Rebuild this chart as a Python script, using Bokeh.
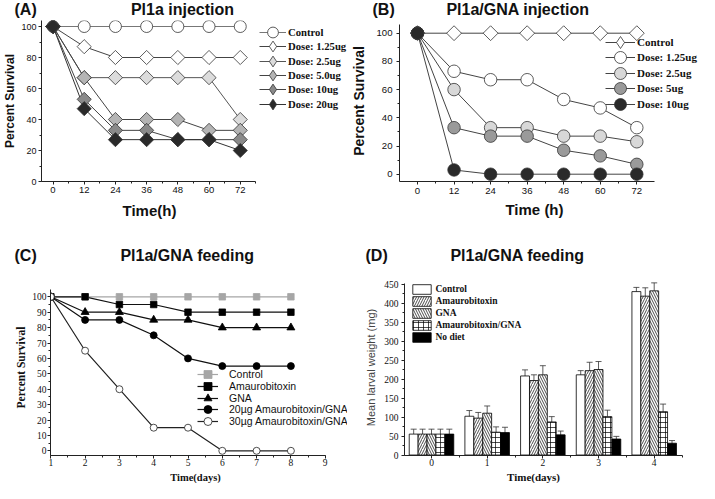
import math
from bokeh.plotting import figure
from bokeh.models import (Range1d, Label, Legend, LegendItem, SingleIntervalTicker,
                          ColumnDataSource, Whisker, TeeHead)
from bokeh.layouts import row, column
from bokeh.embed import file_html
from bokeh.resources import INLINE

# ---------------- data ----------------
# (A) Pl1a injection
a_hours = [0, 12, 24, 36, 48, 60, 72]
a_names = ["Control", "Dose: 1.25ug", "Dose: 2.5ug", "Dose: 5.0ug", "Dose: 10ug", "Dose: 20ug"]
a_control = [100, 100, 100, 100, 100, 100, 100]
a_dose125 = [100, 87, 80, 80, 80, 80, 80]
a_dose25 = [100, 67, 67, 67, 67, 67, 40]
a_dose50 = [100, 67, 40, 40, 40, 33, 33]
a_dose10 = [100, 53, 33, 33, 27, 27, 27]
a_dose20 = [100, 47, 27, 27, 27, 27, 20]

# (B) Pl1a/GNA injection
b_hours = [0, 12, 24, 36, 48, 60, 72]
b_names = ["Control", "Dose: 1.25ug", "Dose: 2.5ug", "Dose: 5ug", "Dose: 10ug"]
b_control = [100, 100, 100, 100, 100, 100, 100]
b_dose125 = [100, 73, 67, 67, 53, 47, 33]
b_dose25 = [100, 60, 33, 33, 27, 27, 23]
b_dose5 = [100, 33, 27, 27, 17, 13, 7]
b_dose10 = [100, 3, 0, 0, 0, 0, 0]

# (C) Pl1a/GNA feeding (survival)
c_days = [1, 2, 3, 4, 5, 6, 7, 8]
c_names = ["Control", "Amaurobitoxin", "GNA", "20µg Amaurobitoxin/GNA", "30µg Amaurobitoxin/GNA"]
c_control = [100, 100, 100, 100, 100, 100, 100, 100]
c_amaur = [100, 100, 95, 95, 90, 90, 90, 90]
c_gna = [100, 90, 90, 85, 85, 80, 80, 80]
c_20 = [100, 85, 85, 75, 60, 55, 55, 55]
c_30 = [100, 65, 40, 15, 15, 0, 0, 0]

# (D) Pl1a/GNA feeding (larval weight, mg)
d_days = [0, 1, 2, 3, 4]
d_names = ["Control", "Amaurobitoxin", "GNA", "Amaurobitoxin/GNA", "No diet"]
d_control = [55, 102, 208, 211, 430]
d_control_err = [13, 15, 16, 11, 11]
d_amaur = [55, 97, 196, 222, 418]
d_amaur_err = [13, 15, 15, 22, 22]
d_gna = [55, 110, 211, 225, 432]
d_gna_err = [13, 19, 24, 21, 21]
d_combo = [55, 60, 87, 101, 114]
d_combo_err = [13, 14, 14, 17, 20]
d_nodiet = [55, 59, 53, 42, 31]
d_nodiet_err = [13, 14, 10, 7, 7]

SANS = "Liberation Sans"
SERIF = "Liberation Serif"


# ---------------- helpers ----------------
def panel(ox, oy, w, h, fl, fb, ft, xc, yc):
    kx = (xc[3] - xc[1]) / (xc[2] - xc[0])
    ky = (yc[1] - yc[3]) / (yc[2] - yc[0])
    X = lambda px: xc[0] + (px - xc[1]) / kx
    Y = lambda py: yc[0] + (yc[1] - py) / ky
    p = figure(width=w, height=h,
               x_range=Range1d(X(fl), X(ox + w)), y_range=Range1d(Y(fb), Y(ft)),
               min_border_left=fl - ox, min_border_right=0, min_border_top=ft - oy,
               min_border_bottom=oy + h - fb,
               output_backend="svg", toolbar_location=None)
    p.xgrid.visible = False
    p.ygrid.visible = False
    p.outline_line_color = None
    return p, X, Y


def strip(ox, oy, w, h, texts):
    # text-only band; its ranges are plain page pixels (y grows downward)
    s = figure(width=w, height=h, x_range=Range1d(ox, ox + w), y_range=Range1d(oy + h, oy),
               min_border_left=0, min_border_right=0, min_border_top=0, min_border_bottom=0,
               x_axis_location=None, y_axis_location=None,
               output_backend="svg", toolbar_location=None)
    s.outline_line_color = None
    for g in s.grid:
        g.visible = False
    for (tx, ty, txt, font, size, bold, align) in texts:
        s.add_layout(Label(x=tx, y=ty, text=txt, text_font=font, text_font_size=size,
                           text_font_style="bold" if bold else "normal", text_align=align,
                           text_baseline="middle", text_color="#111111"))
    return s


def style_axis(ax, bounds, interval, font, size, tick_out, standoff, label=None, lfont=SANS,
               lsize="12px", lbold=True, lstandoff=2, lcolor="#111111"):
    ax.bounds = bounds
    ax.ticker = SingleIntervalTicker(interval=interval, num_minor_ticks=2)
    ax.axis_line_color = "#222222"
    ax.axis_line_width = 1
    ax.major_tick_line_color = "#222222"
    ax.minor_tick_line_color = "#222222"
    ax.major_tick_out = tick_out
    ax.major_tick_in = 0
    ax.minor_tick_out = 2
    ax.minor_tick_in = 0
    ax.major_label_text_font = font
    ax.major_label_text_font_size = size
    ax.major_label_text_color = "#111111"
    ax.major_label_standoff = standoff
    if label is not None:
        ax.axis_label = label
        ax.axis_label_text_font = lfont
        ax.axis_label_text_font_size = lsize
        ax.axis_label_text_font_style = "bold" if lbold else "normal"
        ax.axis_label_text_color = lcolor
        ax.axis_label_standoff = lstandoff


def make_legend(items, vx, vy, gw, gh, standoff, font, size, bold):
    return Legend(items=items, location=(vx, vy), glyph_width=gw, glyph_height=gh,
                  spacing=0, label_standoff=standoff, label_height=6, label_width=10,
                  padding=0, margin=0, border_line_color=None, background_fill_alpha=0,
                  label_text_font=font, label_text_font_size=size,
                  label_text_font_style="bold" if bold else "normal",
                  label_text_color="#111111")


def add_row_legends(p, items, fb, vx, first_center, step, gw, gh, standoff, font, size, bold):
    # one legend per row so that rows can sit closer than the glyph box height
    for i, it in enumerate(items):
        center = first_center + i * step
        vy = fb - (center + gh / 2)
        p.add_layout(make_legend([it], vx, vy, gw, gh, standoff, font, size, bold))


# plots sharing a row get the same top and bottom borders (Bokeh aligns their frames)
TOP_FT, TOP_FB = 28, 189
BOT_FT, BOT_FB = 287, 463

# ---------------- panel A ----------------
FA = dict(fl=44, fb=TOP_FB, ft=TOP_FT)
pA, XA, YA = panel(8, 28, 347, 178, FA["fl"], FA["fb"], FA["ft"], (0, 55.7, 72, 246), (0, 189, 100, 34))
style_axis(pA.xaxis[0], (XA(FA["fl"]), 78), 12, SANS, "9.5px", 3, 2)
style_axis(pA.yaxis[0], (0, 105), 20, SANS, "9px", 3, 2, "Percent Survival", SANS, "12px", True, 1)
a_vals = [a_control, a_dose125, a_dose25, a_dose50, a_dose10, a_dose20]
a_fill = ["white", "white", "#dcdcdc", "#b4b4b4", "#8a8a8a", "#2a2a2a"]
a_line = ["#777777", "#444444", "#555555", "#444444", "#444444", "#333333"]
a_lines, a_keys = [], []
for vals, lc in zip(a_vals, a_line):
    src = ColumnDataSource(dict(x=a_hours, y=vals))
    a_lines.append(pA.line("x", "y", source=src, line_color=lc, line_width=1))
for i, (vals, fc) in enumerate(zip(a_vals, a_fill)):
    src = ColumnDataSource(dict(x=a_hours, y=vals))
    if i == 0:
        key = pA.scatter("x", "y", source=src, marker="circle", size=12,
                         fill_color=fc, line_color="#333333", line_width=0.8)
    else:
        # small diamond hidden under the rotated square: gives the legend its diamond key
        key = pA.scatter("x", "y", source=src, marker="diamond", size=4,
                         fill_color=fc, line_color="#333333", line_width=0.8)
        pA.scatter("x", "y", source=src, marker="square", size=10, angle=math.pi / 4,
                   fill_color=fc, line_color="#333333", line_width=0.8)
    a_keys.append(key)
a_items = [LegendItem(label=n, renderers=[l, k]) for n, l, k in zip(a_names, a_lines, a_keys)]
add_row_legends(pA, a_items, FA["fb"], 262 - FA["fl"], 40, 14.35, 27, 30, 2, SERIF, "10.7px", True)

# ---------------- panel B ----------------
FB = dict(fl=407, fb=TOP_FB, ft=TOP_FT)
pB, XB, YB = panel(355, 28, 352, 178, FB["fl"], FB["fb"], FB["ft"], (0, 425, 72, 644.3), (0, 181.7, 100, 40.7))
style_axis(pB.xaxis[0], (XB(FB["fl"]), 77.7), 12, SANS, "9.6px", 3, 3)
style_axis(pB.yaxis[0], (YB(FB["fb"]), 106), 20, SANS, "9.6px", 3, 4, "Percent Survival", SANS, "14px", True, 6)
b_vals = [b_control, b_dose125, b_dose25, b_dose5, b_dose10]
b_fill = ["white", "white", "#d8d8d8", "#9a9a9a", "#2a2a2a"]
b_lines, b_keys = [], []
for vals in b_vals:
    src = ColumnDataSource(dict(x=b_hours, y=vals))
    b_lines.append(pB.line("x", "y", source=src, line_color="#444444", line_width=1))
for i, (vals, fc) in enumerate(zip(b_vals, b_fill)):
    src = ColumnDataSource(dict(x=b_hours, y=vals))
    if i == 0:
        key = pB.scatter("x", "y", source=src, marker="diamond", size=4,
                         fill_color=fc, line_color="#333333", line_width=0.8)
        pB.scatter("x", "y", source=src, marker="square", size=10.5, angle=math.pi / 4,
                   fill_color=fc, line_color="#333333", line_width=0.8)
    else:
        key = pB.scatter("x", "y", source=src, marker="circle", size=12.5,
                         fill_color=fc, line_color="#333333", line_width=0.8)
    b_keys.append(key)
b_items = [LegendItem(label=n, renderers=[l, k]) for n, l, k in zip(b_names, b_lines, b_keys)]
add_row_legends(pB, b_items, FB["fb"], 613 - FB["fl"], 50, 15.4, 30, 32, 2, SERIF, "11px", True)

# ---------------- panel C ----------------
FC = dict(fl=58, fb=BOT_FB, ft=BOT_FT)
pC, XC, YC = panel(8, 272, 347, 206, FC["fl"], FC["fb"], FC["ft"], (1, 58.3, 9, 332.7), (0, 458.3, 100, 304.3))
style_axis(pC.xaxis[0], (1, 9), 1, SERIF, "9.5px", 3, 0)
style_axis(pC.yaxis[0], (YC(FC["fb"]), 104.5), 10, SERIF, "9.5px", 3, 1, "Percent Survival", SERIF, "11.5px", True, 2)
c_vals = [c_control, c_amaur, c_gna, c_20, c_30]
c_marker = ["square", "square", "triangle", "circle", "circle"]
c_size = [6.5, 6.5, 8, 7, 7]
c_fill = ["#a6a6a6", "black", "black", "black", "white"]
c_edge = ["#a6a6a6", "black", "black", "black", "#222222"]
c_lcol = ["#a6a6a6", "#111111", "#111111", "#111111", "#222222"]
c_lines, c_items = [], []
for vals, lc in zip(c_vals, c_lcol):
    src = ColumnDataSource(dict(x=c_days, y=vals))
    c_lines.append(pC.line("x", "y", source=src, line_color=lc, line_width=1.2))
for i, vals in enumerate(c_vals):
    src = ColumnDataSource(dict(x=c_days, y=vals))
    sr = pC.scatter("x", "y", source=src, marker=c_marker[i], size=c_size[i],
                    fill_color=c_fill[i], line_color=c_edge[i], line_width=0.8)
    c_items.append(LegendItem(label=c_names[i], renderers=[c_lines[i], sr]))
add_row_legends(pC, c_items, FC["fb"], 205 - FC["fl"], 382.3, 11.7, 21, 20, 11, SANS, "10.5px", False)

# ---------------- panel D ----------------
FD = dict(fl=412, fb=BOT_FB, ft=BOT_FT)
pD, XD, YD = panel(355, 272, 352, 206, FD["fl"], FD["fb"], FD["ft"], (0, 439, 4, 661.7), (0, 462.5, 450, 291.5))
style_axis(pD.xaxis[0], (XD(FD["fl"]), 4.5), 1, SERIF, "9.5px", 3, 0)
style_axis(pD.yaxis[0], (YD(FD["fb"]), 452), 50, SERIF, "9.5px", 3, 3, "Mean larval weight (mg)",
           SANS, "11px", False, 4, "#444444")
d_vals = [d_control, d_amaur, d_gna, d_combo, d_nodiet]
d_errs = [d_control_err, d_amaur_err, d_gna_err, d_combo_err, d_nodiet_err]
d_fill = ["white", "white", "white", "white", "black"]
d_hatch = [" ", "/", "\\", "+", " "]
bar_w = 0.16
d_items = []
for i, (vals, errs) in enumerate(zip(d_vals, d_errs)):
    xs = [d + (i - 2) * bar_w for d in d_days]
    src = ColumnDataSource(dict(x=xs, top=vals,
                                lower=[v - e for v, e in zip(vals, errs)],
                                upper=[v + e for v, e in zip(vals, errs)]))
    r = pD.vbar(x="x", top="top", bottom=0, width=bar_w, source=src,
                fill_color=d_fill[i], line_color="black", line_width=0.8,
                hatch_pattern=d_hatch[i], hatch_color="black", hatch_scale=5, hatch_weight=0.7)
    d_items.append(LegendItem(label=d_names[i], renderers=[r]))
    wk = Whisker(source=src, base="x", lower="lower", upper="upper", dimension="height",
                 line_color="#333333", line_width=0.8,
                 upper_head=TeeHead(size=6, line_color="#333333", line_width=0.8),
                 lower_head=TeeHead(size=6, line_color="#333333", line_width=0.8))
    pD.add_layout(wk)
# single block legend: 5 rows of 12 px, first row centred near y=297 (page px)
d_gh = 12
d_leg_bottom = 297.3 - d_gh / 2 + len(d_items) * d_gh
pD.add_layout(make_legend(d_items, 418.4 - FD["fl"], FD["fb"] - d_leg_bottom, 23, d_gh, 2,
                          SERIF, "9.5px", True))

# ---------------- text bands (headings and x-axis titles) ----------------
hA = strip(8, 8, 347, 20, [(22, 17, "(A)", SANS, "16px", True, "left"),
                           (190, 17, "Pl1a injection", SANS, "16px", True, "center")])
hB = strip(355, 8, 352, 20, [(380, 17, "(B)", SANS, "16px", True, "left"),
                             (525.5, 17, "Pl1a/GNA injection", SANS, "16px", True, "center")])
mA = strip(8, 206, 347, 66, [(157, 218, "Time(h)", SANS, "15px", True, "center"),
                             (22, 263, "(C)", SANS, "16px", True, "left"),
                             (195, 263, "Pl1a/GNA feeding", SANS, "16px", True, "center")])
mB = strip(355, 206, 352, 66, [(542, 217, "Time (h)", SANS, "15px", True, "center"),
                               (373, 263, "(D)", SANS, "16px", True, "left"),
                               (525, 263, "Pl1a/GNA feeding", SANS, "16px", True, "center")])
bC = strip(8, 478, 347, 13, [(203, 484.5, "Time(days)", SERIF, "10.5px", True, "center")])
bD = strip(355, 478, 352, 13, [(541, 484.5, "Time(days)", SERIF, "11px", True, "center")])

layout = column(row(hA, hB), row(pA, pB), row(mA, mB), row(pC, pD), row(bC, bD))
open("out.html", "w").write(file_html(layout, INLINE))
